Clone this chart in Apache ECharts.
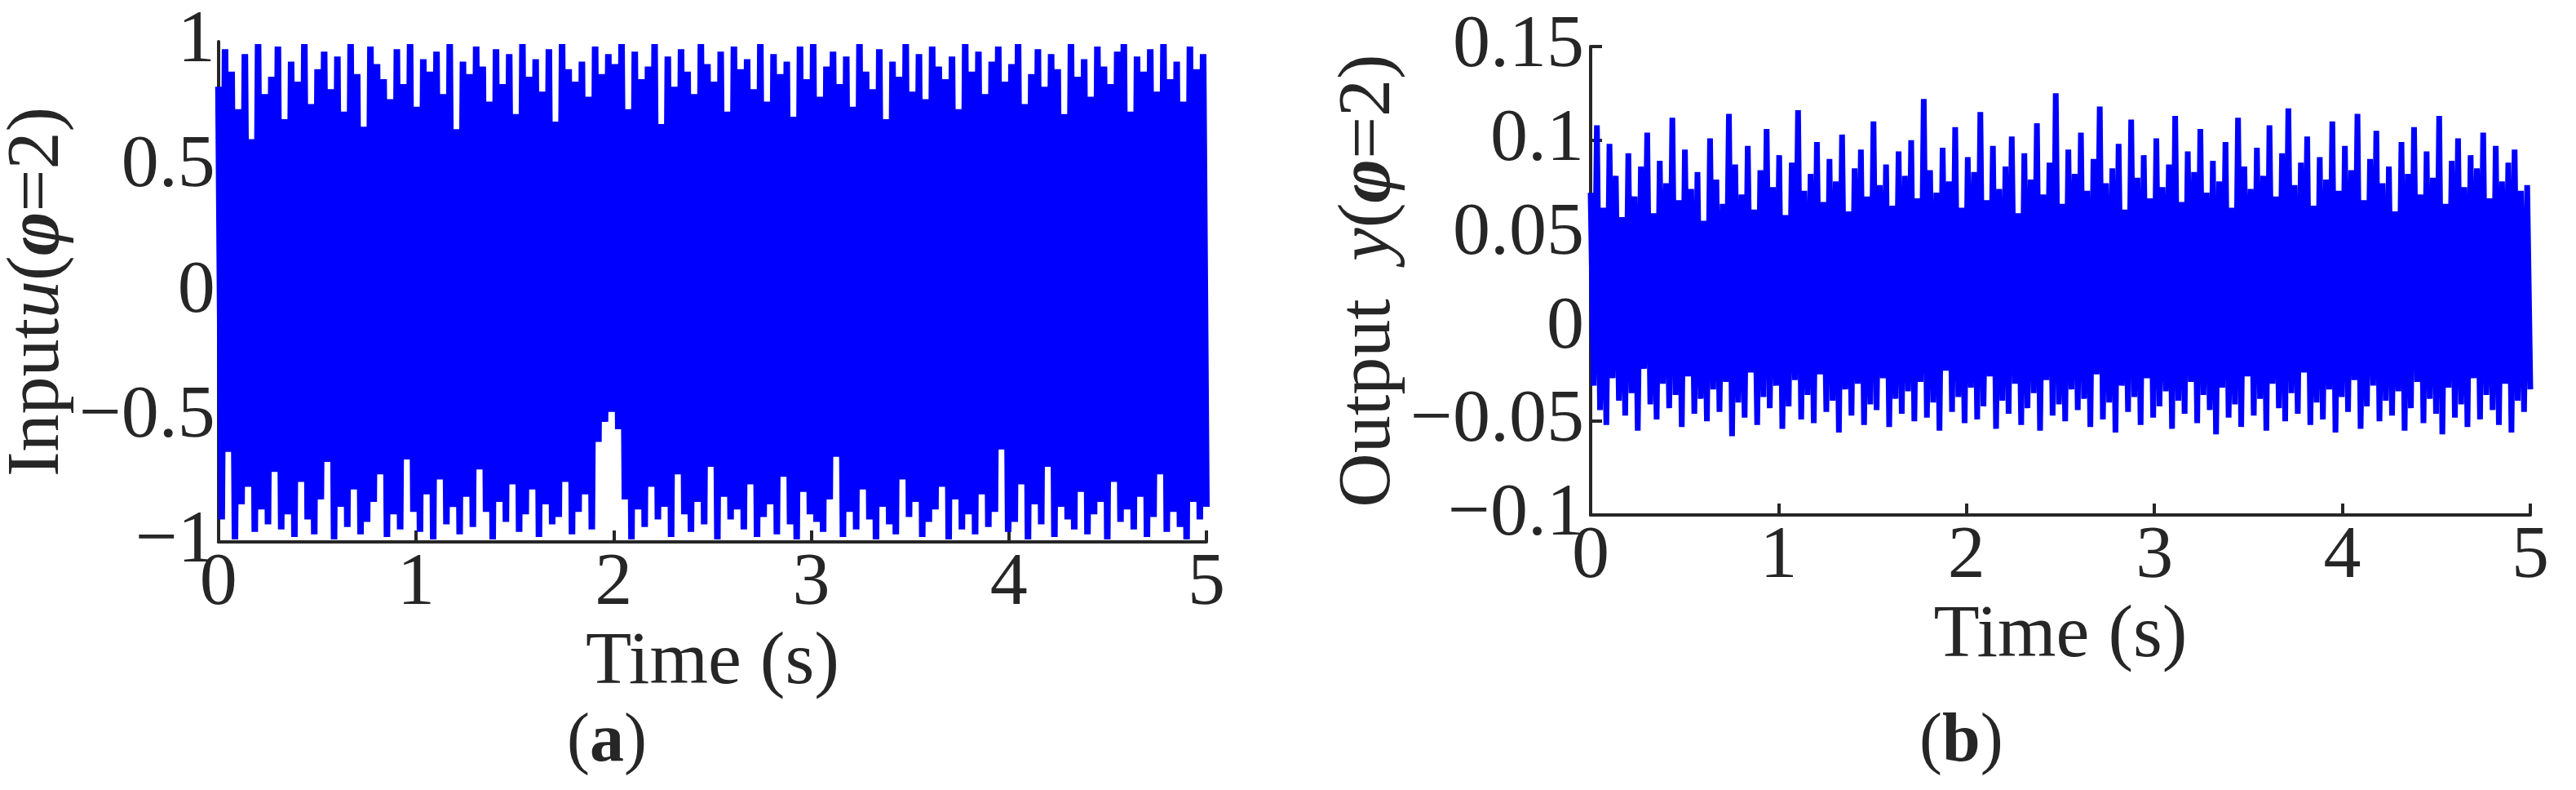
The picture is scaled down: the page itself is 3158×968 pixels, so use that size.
<!DOCTYPE html>
<html lang="en">
<head>
<meta charset="UTF-8">
<title>Input / Output</title>
<script src="https://cdn.jsdelivr.net/npm/echarts@6/dist/echarts.min.js"></script>
<style>html,body{margin:0;background:#fff}</style>
</head>
<body>
<div id="main" style="width:3158px;height:968px;"></div>
<script>
// input signal u (phi = 2)
var inputU = [
 0.82,-0.91,0.97,-0.64,0.88,-0.99,0.73,-0.85,0.95,-0.78,0.61,-0.96,0.99,-0.87,0.79,-0.93,0.86,-0.72,0.98,-0.95,
 0.69,-0.89,0.92,-0.98,0.84,-0.76,0.99,-0.91,0.75,-0.97,0.89,-0.83,0.96,-0.68,0.81,-0.99,0.94,-0.86,0.72,-0.94,
 0.99,-0.79,0.87,-0.97,0.66,-0.92,0.98,-0.84,0.91,-0.73,0.85,-0.98,0.77,-0.89,0.97,-0.95,0.83,-0.67,0.99,-0.88,
 0.74,-0.96,0.93,-0.81,0.88,-0.99,0.96,-0.75,0.79,-0.93,0.99,-0.86,0.65,-0.97,0.92,-0.82,0.87,-0.94,0.98,-0.71,
 0.90,-0.88,0.76,-0.99,0.97,-0.84,0.83,-0.92,0.95,-0.77,0.71,-0.96,0.99,-0.89,0.86,-0.79,0.93,-0.98,0.80,-0.85,
 0.97,-0.93,0.68,-0.90,0.99,-0.76,0.89,-0.97,0.84,-0.88,0.92,-0.81,0.78,-0.95,0.98,-0.60,0.87,-0.52,0.95,-0.48,
 0.91,-0.55,0.99,-0.83,0.73,-0.99,0.96,-0.87,0.85,-0.94,0.90,-0.78,0.99,-0.91,0.67,-0.86,0.94,-0.98,0.82,-0.73,
 0.97,-0.89,0.88,-0.96,0.79,-0.84,0.99,-0.93,0.91,-0.70,0.84,-0.99,0.96,-0.82,0.72,-0.91,0.98,-0.87,0.89,-0.95,
 0.93,-0.77,0.81,-0.98,0.99,-0.90,0.76,-0.85,0.95,-0.97,0.87,-0.74,0.92,-0.93,0.70,-0.99,0.98,-0.80,0.85,-0.89,
 0.99,-0.92,0.78,-0.96,0.90,-0.83,0.96,-0.66,0.83,-0.98,0.94,-0.88,0.74,-0.95,0.99,-0.79,0.88,-0.91,0.81,-0.99,
 0.97,-0.86,0.69,-0.93,0.92,-0.97,0.86,-0.75,0.99,-0.90,0.80,-0.84,0.95,-0.98,0.77,-0.92,0.98,-0.87,0.90,-0.78,
 0.85,-0.99,0.94,-0.83,0.73,-0.95,0.99,-0.89,0.88,-0.97,0.96,-0.81,0.79,-0.94,0.92,-0.88,0.98,-0.63,0.84,-0.96,
 0.91,-0.92,0.99,-0.77,0.75,-0.99,0.87,-0.85,0.97,-0.93,0.82,-0.70,0.95,-0.98,0.89,-0.86,0.71,-0.91,0.99,-0.95,
 0.86,-0.80,0.93,-0.97,0.78,-0.89,0.98,-0.84,0.90,-0.99,0.83,-0.76,0.96,-0.92,0.99,-0.87,0.72,-0.95,0.94,-0.82,
 0.88,-0.98,0.97,-0.90,0.80,-0.73,0.99,-0.96,0.85,-0.88,0.92,-0.94,0.76,-0.99,0.98,-0.84,0.89,-0.91,0.95,-0.86
];

// output signal y (phi = 2)
var outputY = [
 0.072,-0.031,0.108,-0.044,0.064,-0.052,0.098,-0.027,0.081,-0.039,0.059,-0.047,0.093,-0.035,0.070,-0.055,0.086,-0.022,0.104,-0.041,
 0.061,-0.049,0.089,-0.030,0.077,-0.043,0.112,-0.036,0.068,-0.053,0.095,-0.026,0.074,-0.046,0.083,-0.038,0.057,-0.050,0.101,-0.033,
 0.079,-0.045,0.066,-0.029,0.114,-0.058,0.087,-0.040,0.071,-0.048,0.097,-0.024,0.063,-0.052,0.084,-0.037,0.106,-0.043,0.075,-0.031,
 0.092,-0.054,0.060,-0.042,0.088,-0.028,0.116,-0.049,0.073,-0.036,0.082,-0.051,0.099,-0.025,0.067,-0.045,0.090,-0.039,0.078,-0.056,
 0.103,-0.033,0.062,-0.047,0.085,-0.030,0.095,-0.052,0.070,-0.041,0.110,-0.044,0.076,-0.027,0.087,-0.053,0.065,-0.038,0.094,-0.046,
 0.081,-0.034,0.100,-0.050,0.069,-0.029,0.122,-0.048,0.084,-0.040,0.072,-0.055,0.096,-0.023,0.078,-0.045,0.107,-0.037,0.064,-0.051,
 0.091,-0.032,0.083,-0.049,0.115,-0.042,0.068,-0.026,0.097,-0.054,0.074,-0.039,0.086,-0.046,0.102,-0.030,0.061,-0.052,0.093,-0.043,
 0.079,-0.035,0.109,-0.055,0.071,-0.028,0.088,-0.047,0.125,-0.041,0.066,-0.050,0.095,-0.033,0.082,-0.044,0.104,-0.038,0.073,-0.053,
 0.090,-0.025,0.118,-0.049,0.077,-0.040,0.085,-0.056,0.098,-0.031,0.063,-0.045,0.111,-0.037,0.080,-0.052,0.092,-0.027,0.069,-0.048,
 0.101,-0.042,0.075,-0.034,0.087,-0.054,0.113,-0.039,0.067,-0.046,0.094,-0.029,0.083,-0.051,0.106,-0.036,0.072,-0.044,0.089,-0.057,
 0.078,-0.032,0.099,-0.048,0.064,-0.041,0.112,-0.053,0.086,-0.026,0.074,-0.047,0.096,-0.038,0.081,-0.055,0.108,-0.030,0.070,-0.043,
 0.093,-0.050,0.117,-0.035,0.076,-0.046,0.088,-0.024,0.102,-0.052,0.065,-0.040,0.091,-0.049,0.079,-0.033,0.110,-0.056,0.073,-0.037,
 0.097,-0.045,0.084,-0.028,0.114,-0.054,0.068,-0.042,0.090,-0.031,0.105,-0.050,0.077,-0.039,0.086,-0.047,0.062,-0.034,0.099,-0.055,
 0.082,-0.043,0.107,-0.029,0.071,-0.051,0.094,-0.038,0.080,-0.046,0.113,-0.057,0.066,-0.032,0.089,-0.048,0.101,-0.041,0.075,-0.053,
 0.092,-0.027,0.085,-0.049,0.104,-0.036,0.069,-0.044,0.097,-0.052,0.078,-0.030,0.088,-0.056,0.095,-0.039,0.073,-0.045,0.076,-0.033
];

var tEnd = 5;
function pairs(vals) {
    return vals.map(function (v, i) { return [i * tEnd / (vals.length - 1), v]; });
}

var myChart = echarts.init(document.getElementById('main'));
var font = 'Liberation Serif';
var ink = '#262626';
function minus(v) { return String(v).replace('-', '\u2212'); }

var nameRich = {
    r: { fontFamily: font, fontSize: 92, color: ink },
    i: { fontFamily: font, fontSize: 92, color: ink, fontStyle: 'italic' },
    b: { fontFamily: font, fontSize: 92, color: ink, fontStyle: 'italic', fontWeight: 'bold' }
};

function xAx(idx) {
    return {
        gridIndex: idx, type: 'value', min: 0, max: 5, interval: 1,
        name: 'Time (s)', nameLocation: 'middle', nameGap: 70,
        nameTextStyle: { fontFamily: font, fontSize: 92, color: ink, verticalAlign: 'top' },
        axisLine: { show: true, onZero: false, lineStyle: { color: ink, width: 4 } },
        axisTick: { show: true, inside: true, length: 14, lineStyle: { color: ink, width: 4 } },
        axisLabel: { fontFamily: font, fontSize: 92, color: ink, margin: 6 },
        splitLine: { show: false }
    };
}

var option = {
    animation: false,
    grid: [
        { left: 259, top: 51, width: 1220, height: 613 },
        { left: 1950, top: 57, width: 1152, height: 574 }
    ],
    xAxis: [xAx(0), xAx(1)],
    yAxis: [
        {
            gridIndex: 0, type: 'value', min: -1, max: 1, interval: 0.5,
            name: '{r|Input}{i|u}{r|(}{b|φ}{r|=2)}', nameLocation: 'middle', nameGap: 112, nameRotate: 90,
            nameTextStyle: { rich: nameRich },
            axisLine: { show: true, lineStyle: { color: ink, width: 4 } },
            axisTick: { show: false },
            axisLabel: { fontFamily: font, fontSize: 92, color: ink, margin: 4, formatter: minus },
            splitLine: { show: false }
        },
        {
            gridIndex: 1, type: 'value', min: -0.1, max: 0.15, interval: 0.05,
            name: '{r|Output  }{i|y}{r|(}{b|φ}{r|=2)}', nameLocation: 'middle', nameGap: 168, nameRotate: 90,
            nameTextStyle: { rich: nameRich },
            axisLine: { show: true, lineStyle: { color: ink, width: 4 } },
            axisTick: { show: true, inside: true, length: 14, lineStyle: { color: ink, width: 4 } },
            axisLabel: { fontFamily: font, fontSize: 92, color: ink, margin: 8,
                formatter: function (v) { return minus(+v.toFixed(2)); } },
            splitLine: { show: false }
        }
    ],
    series: [
        { type: 'line', xAxisIndex: 0, yAxisIndex: 0, data: pairs(inputU), showSymbol: false,
          lineStyle: { color: '#0000ff', width: 8 }, z: 1 },
        { type: 'line', xAxisIndex: 1, yAxisIndex: 1, data: pairs(outputY), showSymbol: false,
          lineStyle: { color: '#0000ff', width: 7 }, z: 1 }
    ],
    graphic: [
        { type: 'text', left: 695, top: 868, style: { text: '({b|a})', fontFamily: font, fontSize: 84, fill: ink,
          rich: { b: { fontFamily: font, fontSize: 84, fontWeight: 'bold', fill: ink } } } },
        { type: 'text', left: 2353, top: 868, style: { text: '({b|b})', fontFamily: font, fontSize: 84, fill: ink,
          rich: { b: { fontFamily: font, fontSize: 84, fontWeight: 'bold', fill: ink } } } }
    ]
};

myChart.setOption(option);
</script>
</body>
</html>
